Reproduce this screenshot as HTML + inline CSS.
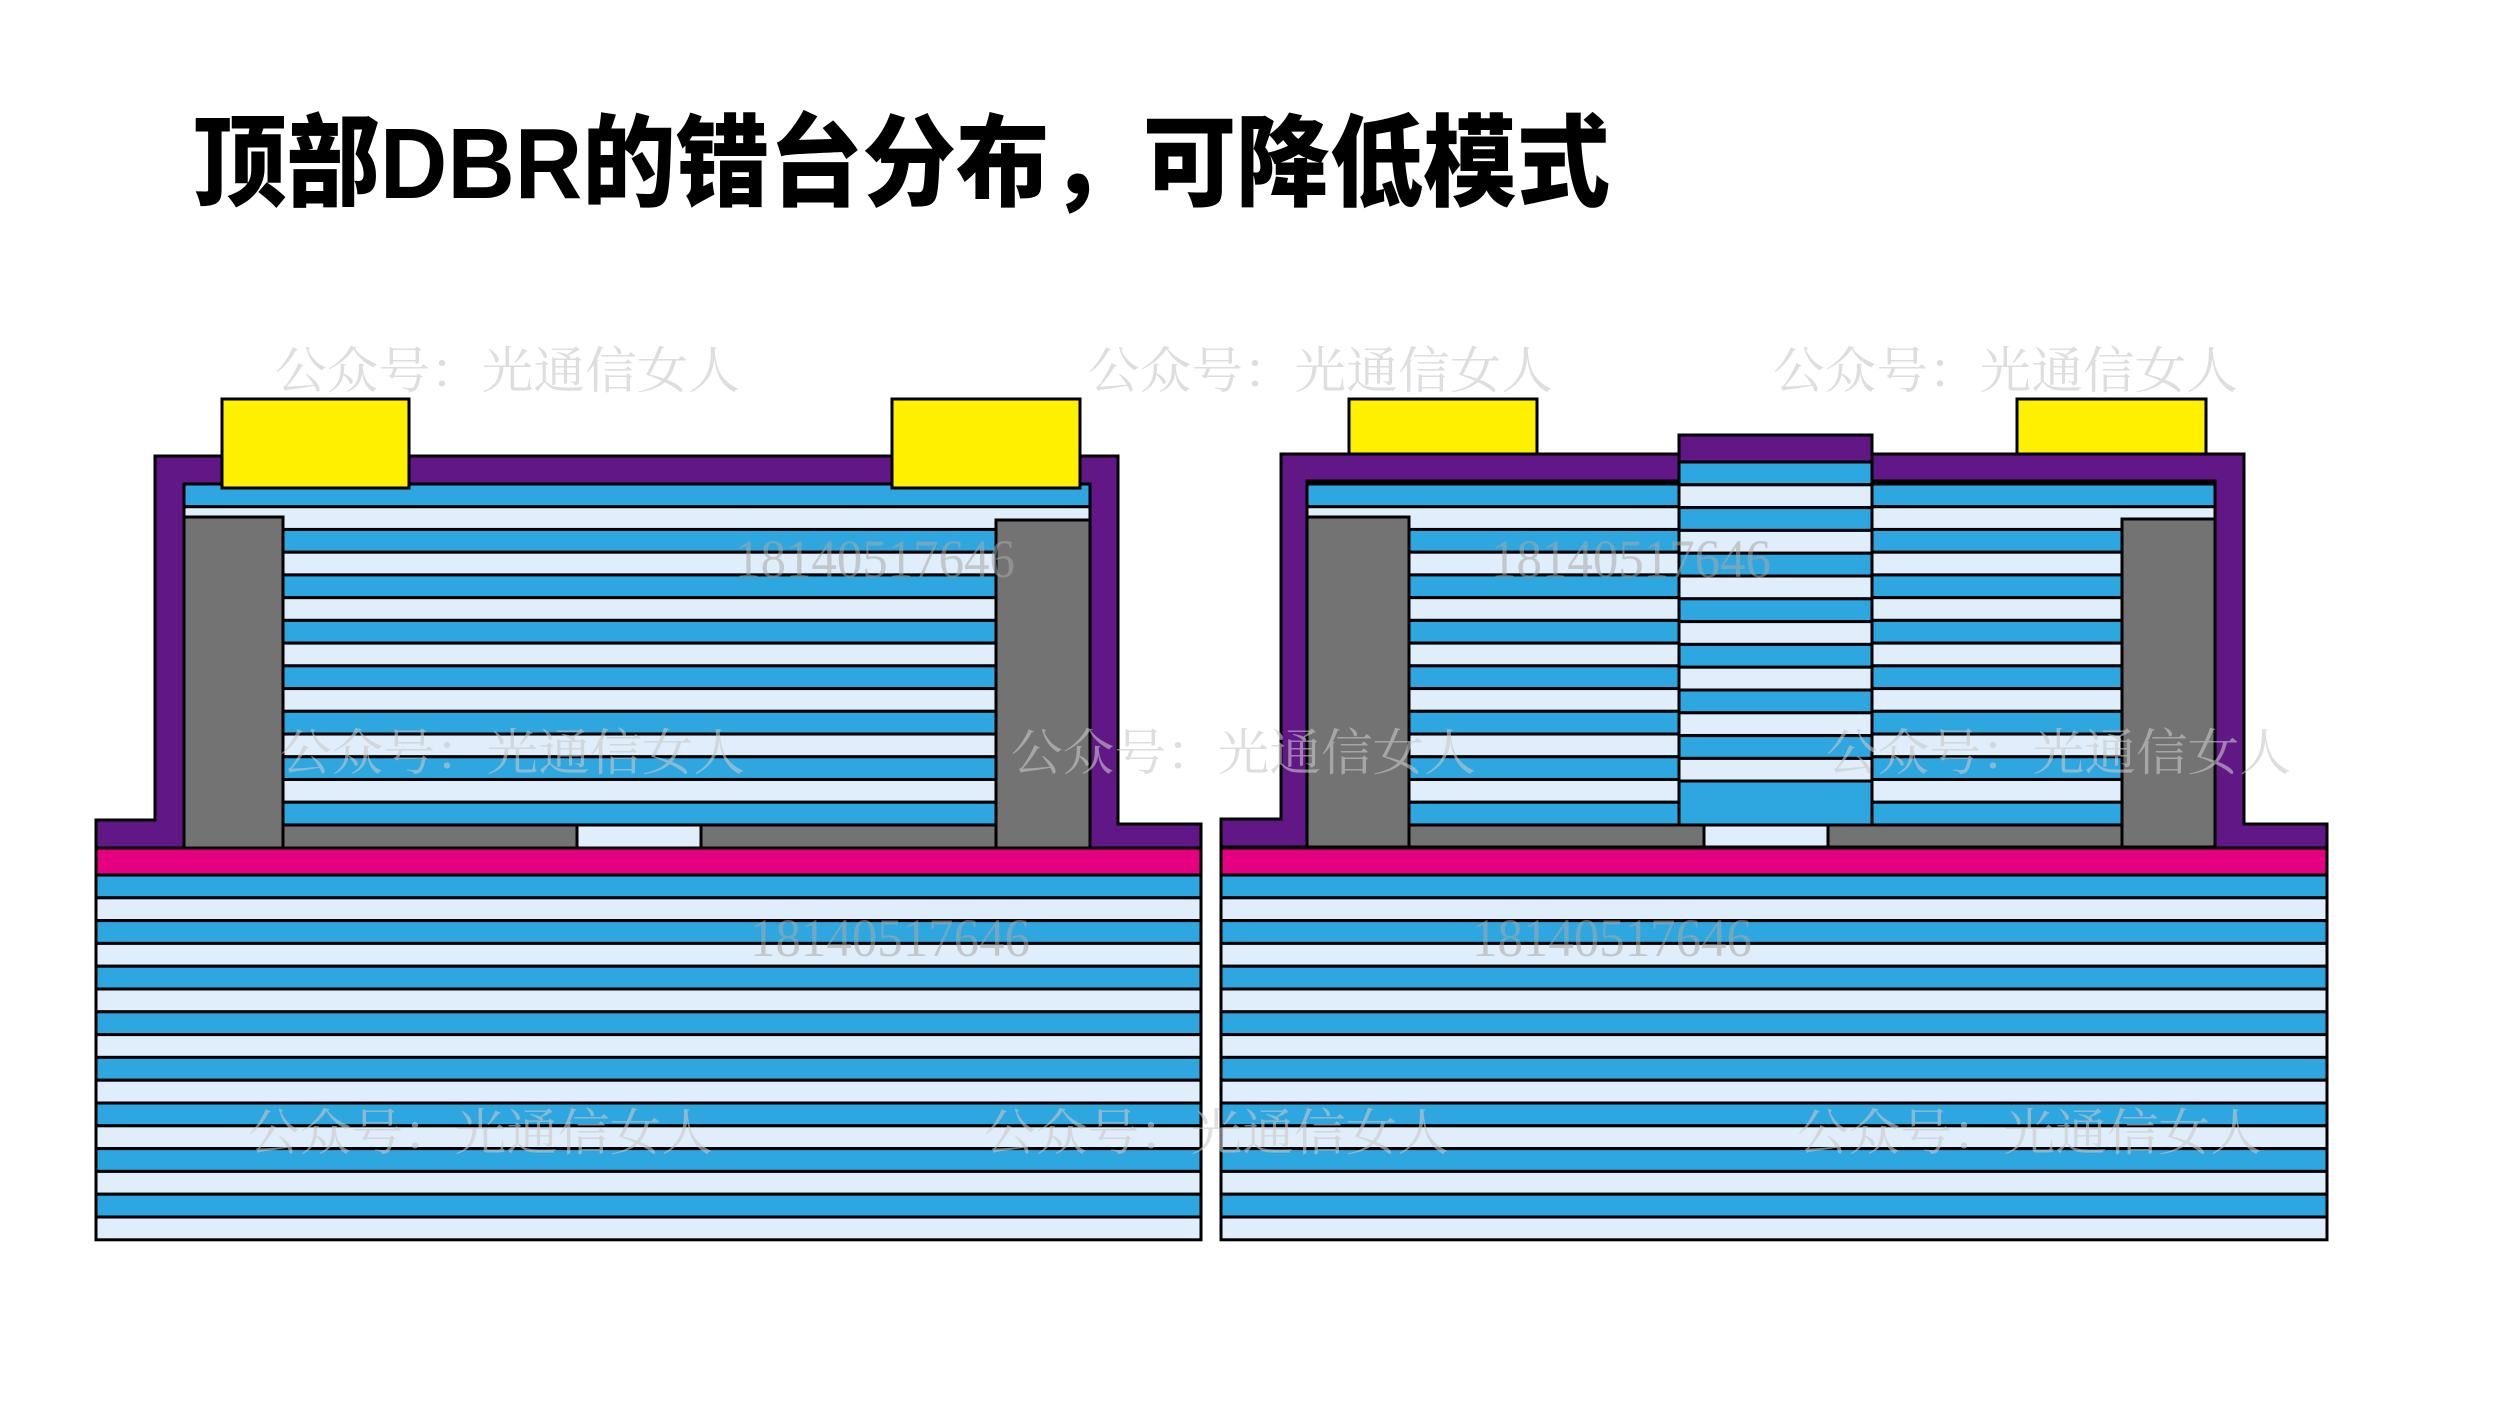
<!DOCTYPE html>
<html><head><meta charset="utf-8"><style>
html,body{margin:0;padding:0;background:#fff;}
svg{display:block;}
</style></head><body>
<svg id="s" width="2500" height="1406" viewBox="0 0 2500 1406" xmlns="http://www.w3.org/2000/svg">
<text x="193" y="198" font-family="Liberation Sans, Noto Sans CJK SC, sans-serif" font-weight="900" font-size="100" textLength="1417" lengthAdjust="spacingAndGlyphs" fill="#000">顶部DBR的错台分布，可降低模式</text>
<g id="d" stroke="#000" stroke-width="3"></g>
<g font-family="Noto Serif CJK SC, serif" font-size="50" fill="#c8c8c8" fill-opacity="0.6">
<text x="275" y="388" textLength="465" lengthAdjust="spacingAndGlyphs">公众号：光通信女人</text>
<text x="1088" y="388" textLength="465" lengthAdjust="spacingAndGlyphs">公众号：光通信女人</text>
<text x="1773" y="388" textLength="465" lengthAdjust="spacingAndGlyphs">公众号：光通信女人</text>
<text x="280" y="770" textLength="465" lengthAdjust="spacingAndGlyphs">公众号：光通信女人</text>
<text x="1011" y="770" textLength="465" lengthAdjust="spacingAndGlyphs">公众号：光通信女人</text>
<text x="1826" y="770" textLength="465" lengthAdjust="spacingAndGlyphs">公众号：光通信女人</text>
<text x="248" y="1150" textLength="465" lengthAdjust="spacingAndGlyphs">公众号：光通信女人</text>
<text x="984" y="1150" textLength="465" lengthAdjust="spacingAndGlyphs">公众号：光通信女人</text>
<text x="1797" y="1150" textLength="465" lengthAdjust="spacingAndGlyphs">公众号：光通信女人</text>
</g>
<g font-family="Liberation Serif, serif" font-size="54" fill="#a8a8a8" fill-opacity="0.55">
<text x="735" y="577" textLength="280" lengthAdjust="spacingAndGlyphs">18140517646</text>
<text x="1491" y="577" textLength="280" lengthAdjust="spacingAndGlyphs">18140517646</text>
<text x="750" y="956" textLength="280" lengthAdjust="spacingAndGlyphs">18140517646</text>
<text x="1472" y="956" textLength="280" lengthAdjust="spacingAndGlyphs">18140517646</text>
</g>
</svg>
<script>
var g=document.getElementById('d'),NS='http://www.w3.org/2000/svg';
var B='#2EA6E0',L='#DFEEFA',G='#737373',P='#611886',K='#E4007F',Y='#FFF000';
function r(x,y,w,h,f){var e=document.createElementNS(NS,'rect');e.setAttribute('x',x);e.setAttribute('y',y);e.setAttribute('width',w);e.setAttribute('height',h);e.setAttribute('fill',f);g.appendChild(e);}
function p(pts,f){var e=document.createElementNS(NS,'polygon');e.setAttribute('points',pts);e.setAttribute('fill',f);g.appendChild(e);}
function stack(x1,x2,y0,n,h,startBlue){for(var i=0;i<n;i++){r(x1,y0+i*h,x2-x1,h,((i%2==0)==startBlue)?B:L);}}
// LEFT
p('96,820 155,820 155,456 1118,456 1118,824 1201,824 1201,852 1090,852 1090,484 184,484 184,848 96,848',P);
r(96,848,1105,27,K);
stack(96,1201,875,16,22.8,true);
var h=22.73;
r(184,484,906,h,B);r(184,484+h,906,h,L);
stack(283,996,484+2*h,13,h,true);
r(184,517,99,331,G);r(996,520,94,328,G);
r(283,825,294,23,G);r(701,825,295,23,G);r(577,825,124,23,L);
r(222,399,187,89,Y);r(892,399,188,89,Y);
// RIGHT
p('1221,819 1281,819 1281,454 2244,454 2244,824 2327,824 2327,852 2215,852 2215,481 1307,481 1307,847 1221,847',P);
r(1221,848,1106,27,K);
stack(1221,2327,875,16,22.8,true);
r(1307,484,372,h,B);r(1307,484+h,372,h,L);
r(1872,484,343,h,B);r(1872,484+h,343,h,L);
stack(1409,1679,484+2*h,13,h,true);
stack(1872,2122,484+2*h,13,h,true);
r(1307,517,102,330,G);r(2122,519,93,328,G);
r(1409,825,295,22,G);r(1828,825,294,22,G);r(1704,825,124,22,L);
r(1679,435,193,27,P);
stack(1679,1872,462,14,22.8,true);
r(1679,781,193,44,B);
r(1349,399,188,55,Y);r(2017,399,189,55,Y);
</script>
</body></html>
